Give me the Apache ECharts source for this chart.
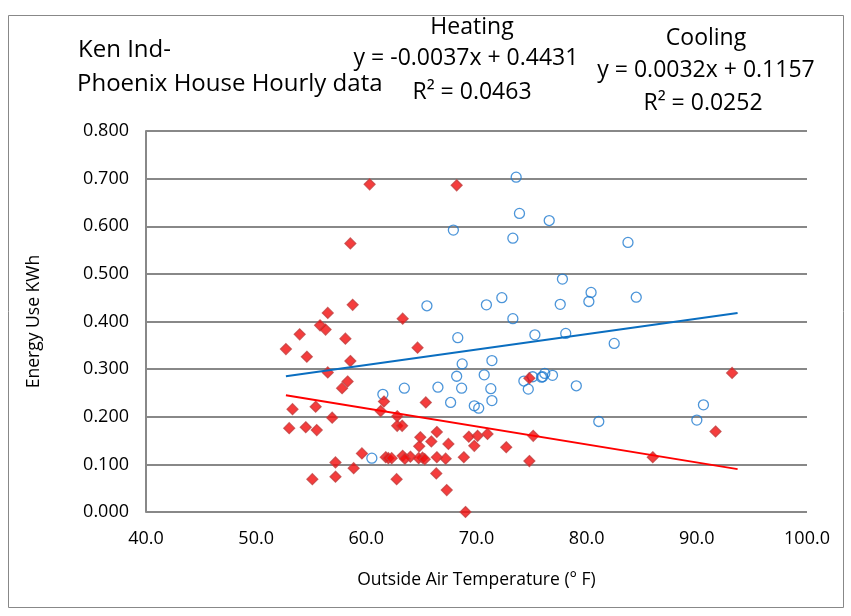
<!DOCTYPE html>
<html>
<head>
<meta charset="utf-8">
<script src="https://cdn.jsdelivr.net/npm/echarts@6/dist/echarts.min.js"></script>
<style>
html,body{margin:0;padding:0;background:#fff;}
#chart{width:851px;height:616px;}
</style>
</head>
<body>
<div id="chart"></div>
<script>
// Cooling (blue hollow circles): [temperature, energy]
const coolingPoints = [
[73.6,0.703],[73.9,0.627],[76.6,0.612],[67.9,0.592],[73.3,0.575],[83.75,0.566],[77.8,0.489],[80.4,0.461],
[84.5,0.451],[72.3,0.450],[80.2,0.442],[77.6,0.436],[70.9,0.435],[65.5,0.433],[73.3,0.406],[78.1,0.375],
[75.3,0.372],[68.3,0.366],[82.5,0.354],[71.4,0.318],[68.7,0.311],[76.2,0.291],[70.7,0.288],[76.9,0.287],
[68.2,0.285],[76.0,0.284],[75.1,0.284],[75.9,0.283],[74.3,0.275],[79.06,0.265],[66.5,0.262],[63.45,0.260],
[68.65,0.260],[71.3,0.259],[74.7,0.258],[61.5,0.247],[71.4,0.234],[67.65,0.230],[90.6,0.225],[69.8,0.223],
[70.2,0.218],[90.0,0.193],[81.1,0.190],[60.5,0.113]
];
// Heating (red diamonds): [temperature, energy]
const heatingPoints = [
[60.3,0.688],[68.2,0.686],[58.55,0.564],[58.76,0.435],[56.5,0.418],[63.3,0.406],[55.8,0.392],[56.3,0.383],
[53.95,0.373],[58.1,0.364],[52.7,0.342],[64.65,0.345],[54.6,0.326],[58.55,0.317],[56.5,0.293],[93.2,0.292],
[74.8,0.281],[58.3,0.274],[57.8,0.260],[61.6,0.232],[65.4,0.230],[55.4,0.221],[53.3,0.216],[61.3,0.212],
[62.8,0.201],[56.9,0.198],[62.8,0.181],[63.25,0.181],[53.0,0.176],[54.5,0.178],[55.5,0.172],[91.7,0.169],
[66.4,0.168],[71.0,0.164],[75.15,0.160],[70.1,0.160],[69.3,0.158],[64.9,0.157],[65.9,0.148],[67.45,0.143],
[69.8,0.139],[64.8,0.138],[72.7,0.136],[59.6,0.123],[63.3,0.118],[64.0,0.116],[61.76,0.115],[66.4,0.115],
[68.85,0.115],[86.0,0.115],[65.1,0.114],[62.0,0.113],[62.3,0.113],[64.75,0.113],[63.5,0.112],[67.2,0.112],
[65.3,0.111],[74.8,0.107],[57.2,0.104],[58.85,0.092],[66.35,0.081],[57.2,0.074],[55.1,0.069],[62.75,0.069],
[67.3,0.046],[69.0,0.000]
];
// Trend line endpoints
const trendX = [52.7, 93.7];
const heatingTrendY = [0.245, 0.090];
const coolingTrendY = [0.285, 0.418];
// Axis ticks
const xTicks = [40, 50, 60, 70, 80, 90, 100];
const yTicks = [0, 0.1, 0.2, 0.3, 0.4, 0.5, 0.6, 0.7, 0.8];

const FONT = 'Open Sans';
const chart = echarts.init(document.getElementById('chart'), null, {renderer: 'canvas'});
chart.setOption({
  animation: false,
  backgroundColor: '#fff',
  grid: {left: 146, right: 44, top: 131, bottom: 104},
  xAxis: {
    type: 'value', min: xTicks[0], max: xTicks[xTicks.length-1], interval: 10,
    axisLine: {show: false}, axisTick: {show: false}, splitLine: {show: false},
    axisLabel: {color: '#000', fontFamily: FONT, fontSize: 18, margin: 18, formatter: v => v.toFixed(1)},
    name: 'Outside Air Temperature (° F)', nameLocation: 'middle', nameGap: 59,
    nameTextStyle: {color: '#000', fontFamily: FONT, fontSize: 17.5}
  },
  yAxis: {
    type: 'value', min: yTicks[0], max: yTicks[yTicks.length-1], interval: 0.1,
    axisLine: {show: true, lineStyle: {color: '#888', width: 2}}, axisTick: {show: false},
    splitLine: {show: true, lineStyle: {color: '#888', width: 2}},
    axisLabel: {color: '#000', fontFamily: FONT, fontSize: 18, margin: 17, formatter: v => v.toFixed(3)},
    name: 'Energy Use KWh', nameLocation: 'middle', nameGap: 103, nameRotate: 90,
    nameTextStyle: {color: '#000', fontFamily: FONT, fontSize: 17.5}
  },
  series: [
    {type: 'scatter', name: 'Cooling', data: coolingPoints, symbol: 'circle', symbolSize: 10,
     itemStyle: {color: 'rgba(255,255,255,0)', borderColor: '#1f7ad0', borderWidth: 1.3}, z: 3},
    {type: 'scatter', name: 'Heating', data: heatingPoints, symbol: 'diamond', symbolSize: 11,
     itemStyle: {color: '#f20d0d', borderColor: '#c24040', borderWidth: 1.2}, z: 4},
    {type: 'line', data: trendX.map((x,i)=>[x, coolingTrendY[i]]), symbol: 'none',
     lineStyle: {color: '#0a6ec0', width: 2}, z: 5},
    {type: 'line', data: trendX.map((x,i)=>[x, heatingTrendY[i]]), symbol: 'none',
     lineStyle: {color: '#ff0000', width: 2}, z: 5}
  ],
  graphic: [
    {type: 'rect', shape: {x: 8.5, y: 15.5, width: 835, height: 592}, style: {fill: null, stroke: '#888', lineWidth: 1}, silent: true},
    {type: 'text', x: 78, y: 50, style: {text: 'Ken Ind-', font: '24px "Open Sans"', fill: '#000', verticalAlign: 'middle'}},
    {type: 'text', x: 77, y: 84, style: {text: 'Phoenix House Hourly data', font: '24px "Open Sans"', fill: '#000', verticalAlign: 'middle'}},
    {type: 'text', x: 472, y: 27, style: {text: 'Heating', font: '23px "Open Sans"', fill: '#000', align: 'center', verticalAlign: 'middle'}},
    {type: 'text', x: 466, y: 58, style: {text: 'y = -0.0037x + 0.4431', font: '23px "Open Sans"', fill: '#000', align: 'center', verticalAlign: 'middle'}},
    {type: 'text', x: 472, y: 92, style: {text: 'R² = 0.0463', font: '23px "Open Sans"', fill: '#000', align: 'center', verticalAlign: 'middle'}},
    {type: 'text', x: 706, y: 38, style: {text: 'Cooling', font: '23px "Open Sans"', fill: '#000', align: 'center', verticalAlign: 'middle'}},
    {type: 'text', x: 706, y: 70, style: {text: 'y = 0.0032x + 0.1157', font: '23px "Open Sans"', fill: '#000', align: 'center', verticalAlign: 'middle'}},
    {type: 'text', x: 703, y: 103, style: {text: 'R² = 0.0252', font: '23px "Open Sans"', fill: '#000', align: 'center', verticalAlign: 'middle'}}
  ]
});
</script>
</body>
</html>
